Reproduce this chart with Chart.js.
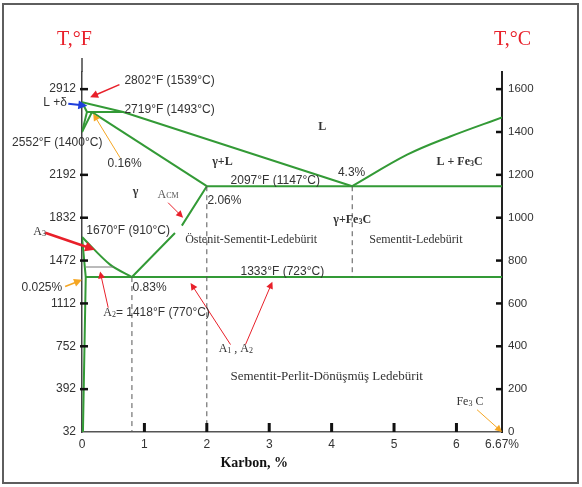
<!DOCTYPE html>
<html>
<head>
<meta charset="utf-8">
<script src="https://cdn.jsdelivr.net/npm/chart.js@4/dist/chart.umd.min.js"></script>
<style>
  html, body { margin: 0; padding: 0; background: #fff; }
  canvas { display: block; }
</style>
</head>
<body>
<canvas id="chart" width="582" height="487"></canvas>
<script>
// --- Phase boundaries: [carbon %, temperature °C] ---
const liquidusLeft  = [[0, 1539], [0.66, 1493], [4.33, 1147]];
const liquidusRight = [[4.33, 1147], [5.21, 1294], [5.9, 1379], [6.73, 1468]];
const deltaSolidus  = [[0, 1539], [0.08, 1493]];
const peritectic    = [[0.08, 1493], [0.66, 1493]];
const deltaGammaA   = [[0, 1400], [0.08, 1493]];
const deltaGammaB   = [[0, 1400], [0.16, 1493]];
const gammaSolidus  = [[0.16, 1493], [2.0, 1147]];
const eutectic      = [[2.0, 1147], [6.73, 1147]];
const a3Line        = [[0, 910], [0.45, 781], [0.8, 723]];
const acmLine       = [[0.8, 723], [1.49, 929], [1.55, null], [1.6, 963], [2.0, 1147]];
const ferriteLine   = [[0, 910], [0.06, 723], [0.015, 0]];
const eutectoid     = [[0.06, 723], [6.73, 723]];
const curieLine     = [[0.06, 770], [0.5, 770]];
const dash083       = [[0.8, 723], [0.8, 0]];
const dash206       = [[2.0, 1147], [2.0, 0]];
const dash43        = [[4.33, 1147], [4.33, 723]];

// --- Axes ---
const cementiteC  = 6.73;   // 6.67 % Fe3C sits at the right axis
const tempMaxC    = 1680;
const fTicks      = [32, 392, 752, 1112, 1472, 1832, 2192, 2912];
const cTicks      = [0, 200, 400, 600, 800, 1000, 1200, 1400, 1600];
const xTicks      = [0, 1, 2, 3, 4, 5, 6, cementiteC];
const xTickLabels = ['0', '1', '2', '3', '4', '5', '6', '6.67%'];

const GREEN = '#339a36';
const RED = '#e8202a';
const ORANGE = '#f5a623';
const BLUE = '#1f3fdc';
const TEXT = '#333';

const FONTS = {
    sans: '12px "Liberation Sans", Arial, sans-serif',
    serif: '12px "Liberation Serif", "Times New Roman", serif',
    serifL: '13px "Liberation Serif", "Times New Roman", serif',
    sub: '8px "Liberation Serif", "Times New Roman", serif',
    bold: 'bold 12px "Liberation Serif", "Times New Roman", serif',
    boldSub: 'bold 8px "Liberation Serif", "Times New Roman", serif',
    title: '20px "Liberation Serif", "Times New Roman", serif',
    axisTitle: 'bold 14px "Liberation Serif", "Times New Roman", serif'
};

// text annotations, anchored at [carbon %, °C]
const notes = [
    { at: [-0.12, 1831], align: 'center', color: RED, parts: [['T,°F', 'title']] },
    { at: [6.9, 1831], align: 'center', color: RED, parts: [['T,°C', 'title']] },
    { at: [0.68, 1640], parts: [['2802°F (1539°C)', 'sans']] },
    { at: [-0.24, 1537], align: 'right', parts: [['L +δ', 'sans']] },
    { at: [0.68, 1504], parts: [['2719°F (1493°C)', 'sans']] },
    { at: [-1.12, 1350], parts: [['2552°F (1400°C)', 'sans']] },
    { at: [0.41, 1254], parts: [['0.16%', 'sans']] },
    { at: [0.86, 1121], align: 'center', parts: [['γ', 'bold']] },
    { at: [2.25, 1261], align: 'center', parts: [['γ+L', 'bold']] },
    { at: [3.85, 1425], align: 'center', parts: [['L', 'bold']] },
    { at: [6.05, 1261], align: 'center', parts: [['L + Fe', 'bold'], ['3', 'boldSub', 2], ['C', 'bold']] },
    { at: [4.32, 1210], align: 'center', parts: [['4.3%', 'sans']] },
    { at: [2.38, 1173], parts: [['2097°F (1147°C)', 'sans']] },
    { at: [2.01, 1079], parts: [['2.06%', 'sans']] },
    { at: [1.21, 1107], color: '#555', parts: [['A', 'serif'], ['CM', 'sub', 1]] },
    { at: [4.33, 990], align: 'center', parts: [['γ+Fe', 'bold'], ['3', 'boldSub', 2], ['C', 'bold']] },
    { at: [2.71, 897], align: 'center', parts: [['Östenit-Sementit-Ledebürit', 'serif']] },
    { at: [5.35, 897], align: 'center', parts: [['Sementit-Ledebürit', 'serif']] },
    { at: [-0.78, 935], parts: [['A', 'serif'], ['3', 'sub', 2]] },
    { at: [0.07, 939], parts: [['1670°F (910°C)', 'sans']] },
    { at: [-0.97, 673], parts: [['0.025%', 'sans']] },
    { at: [0.81, 673], parts: [['0.83%', 'sans']] },
    { at: [0.34, 557], parts: [['A', 'serif'], ['2', 'sub', 2], ['= 1418°F (770°C)', 'sans']] },
    { at: [2.54, 748], parts: [['1333°F (723°C)', 'sans']] },
    { at: [2.19, 389], parts: [['A', 'serif'], ['1', 'sub', 2], [' , A', 'serif'], ['2', 'sub', 2]] },
    { at: [3.92, 258], align: 'center', parts: [['Sementit-Perlit-Dönüşmüş Ledebürit', 'serifL']] },
    { at: [6.0, 142], parts: [['Fe', 'serif'], ['3', 'sub', 2], [' C', 'serif']] },
    { at: [2.76, -148], align: 'center', color: '#111', parts: [['Karbon, %', 'axisTitle']] }
];

// pointer arrows, head at "to"
const pointers = [
    { from: [0.6, 1621], to: [0.13, 1562], color: RED, w: 1.5 },
    { from: [-0.22, 1532], to: [0.085, 1522], color: BLUE, w: 2 },
    { from: [0.61, 1280], to: [0.18, 1485], color: ORANGE, w: 1 },
    { from: [1.38, 1070], to: [1.62, 1000], color: RED, w: 1 },
    { from: [-0.59, 930], to: [0.21, 850], color: RED, w: 2.5 },
    { from: [-0.27, 679], to: [0, 710], color: ORANGE, w: 1.5 },
    { from: [0.42, 580], to: [0.29, 749], color: RED, w: 1 },
    { from: [2.38, 408], to: [1.74, 695], color: RED, w: 1 },
    { from: [2.62, 408], to: [3.05, 701], color: RED, w: 1 },
    { from: [6.33, 104], to: [cementiteC, 0], color: ORANGE, w: 1 }
];

function line(points, color, width, dash, tension) {
    return {
        data: points.map(p => ({ x: p[0], y: p[1] })),
        borderColor: color,
        borderWidth: width,
        borderDash: dash || [],
        tension: tension || 0,
        showLine: true,
        pointRadius: 0,
        fill: false,
        spanGaps: false,
        yAxisID: 'yC'
    };
}

function drawRich(ctx, x, y, parts, align, color) {
    let total = 0;
    parts.forEach(p => { ctx.font = FONTS[p[1]]; total += ctx.measureText(p[0]).width; });
    let cx = align === 'center' ? x - total / 2 : align === 'right' ? x - total : x;
    ctx.fillStyle = color || TEXT;
    ctx.textBaseline = 'middle';
    ctx.textAlign = 'left';
    parts.forEach(p => {
        ctx.font = FONTS[p[1]];
        ctx.fillText(p[0], cx, y + (p[2] || 0));
        cx += ctx.measureText(p[0]).width;
    });
}

function drawArrow(ctx, x1, y1, x2, y2, color, w) {
    const ang = Math.atan2(y2 - y1, x2 - x1);
    const len = 5 + w * 2, half = 2.5 + w;
    ctx.strokeStyle = color;
    ctx.fillStyle = color;
    ctx.lineWidth = w;
    ctx.beginPath();
    ctx.moveTo(x1, y1);
    ctx.lineTo(x2 - Math.cos(ang) * len * 0.8, y2 - Math.sin(ang) * len * 0.8);
    ctx.stroke();
    ctx.beginPath();
    ctx.moveTo(x2, y2);
    ctx.lineTo(x2 - Math.cos(ang) * len + Math.sin(ang) * half, y2 - Math.sin(ang) * len - Math.cos(ang) * half);
    ctx.lineTo(x2 - Math.cos(ang) * len - Math.sin(ang) * half, y2 - Math.sin(ang) * len + Math.cos(ang) * half);
    ctx.closePath();
    ctx.fill();
}

// --- Tick marks, labels, arrows and frame ---
const overlay = {
    id: 'overlay',
    afterDraw(chart) {
        const { ctx, chartArea } = chart;
        const x = chart.scales.x, yC = chart.scales.yC, yF = chart.scales.yF;
        const px = v => x.getPixelForValue(v);
        const py = v => yC.getPixelForValue(v);
        ctx.save();

        // left axis runs a bit higher than the right one
        ctx.strokeStyle = '#444';
        ctx.lineWidth = 1.5;
        ctx.beginPath();
        ctx.moveTo(chartArea.left, chartArea.top);
        ctx.lineTo(chartArea.left, chartArea.top - 14);
        ctx.stroke();

        ctx.fillStyle = '#111';
        yF.ticks.forEach(t => {
            if (t.value === fTicks[0]) return;
            ctx.fillRect(chartArea.left - 2, yF.getPixelForValue(t.value) - 1.25, 8, 2.5);
        });
        yC.ticks.forEach(t => {
            if (t.value === 0) return;
            ctx.fillRect(chartArea.right - 6, py(t.value) - 1.25, 6, 2.5);
        });
        x.ticks.forEach(t => {
            if (t.value === 0 || t.value === cementiteC) return;
            ctx.fillRect(px(t.value) - 1.5, chartArea.bottom - 9, 3, 9);
        });

        pointers.forEach(a => drawArrow(ctx, px(a.from[0]), py(a.from[1]), px(a.to[0]), py(a.to[1]), a.color, a.w));
        notes.forEach(n => drawRich(ctx, px(n.at[0]), py(n.at[1]), n.parts, n.align, n.color));

        ctx.strokeStyle = '#5e5e5e';
        ctx.lineWidth = 2;
        ctx.strokeRect(3, 4, 575, 479);
        ctx.restore();
    }
};

const axisFont = { family: '"Liberation Sans", Arial, sans-serif', size: 12 };

new Chart(document.getElementById('chart'), {
    type: 'scatter',
    data: {
        datasets: [
            line(dash083, '#555', 1, [5, 4]),
            line(dash206, '#555', 1, [5, 4]),
            line(dash43, '#555', 1, [5, 4]),
            line(curieLine, '#777', 1),
            line(liquidusLeft, GREEN, 2),
            line(liquidusRight, GREEN, 2, null, 0.35),
            line(deltaSolidus, GREEN, 2),
            line(peritectic, GREEN, 2),
            line(deltaGammaA, GREEN, 2),
            line(deltaGammaB, GREEN, 2),
            line(gammaSolidus, GREEN, 2),
            line(eutectic, GREEN, 2),
            line(a3Line, GREEN, 2, null, 0.3),
            line(acmLine, GREEN, 2),
            line(ferriteLine, GREEN, 2),
            line(eutectoid, GREEN, 2)
        ]
    },
    options: {
        responsive: false,
        animation: false,
        devicePixelRatio: 1,
        layout: { padding: { top: 72, left: 0, right: 0, bottom: 0 } },
        plugins: { legend: { display: false }, tooltip: { enabled: false } },
        scales: {
            x: {
                type: 'linear',
                min: 0,
                max: cementiteC,
                afterBuildTicks: s => { s.ticks = xTicks.map(v => ({ value: v })); },
                afterFit: s => { s.height = 55; },
                ticks: {
                    font: axisFont,
                    color: TEXT,
                    padding: 5,
                    callback: (v, i) => xTickLabels[i]
                },
                grid: { drawOnChartArea: false, drawTicks: false },
                border: { color: '#555', width: 1.5 }
            },
            yF: {
                type: 'linear',
                position: 'left',
                min: 32,
                max: tempMaxC * 1.8 + 32,
                afterBuildTicks: s => { s.ticks = fTicks.map(v => ({ value: v })); },
                afterFit: s => { s.width = 82; },
                ticks: { font: axisFont, color: TEXT, padding: 6, callback: v => String(v) },
                grid: { drawOnChartArea: false, drawTicks: false },
                border: { color: '#444', width: 1.5 }
            },
            yC: {
                type: 'linear',
                position: 'right',
                min: 0,
                max: tempMaxC,
                afterBuildTicks: s => { s.ticks = cTicks.map(v => ({ value: v })); },
                afterFit: s => { s.width = 80; },
                ticks: { font: { family: axisFont.family, size: 11.5 }, color: TEXT, padding: 6, callback: v => String(v) },
                grid: { drawOnChartArea: false, drawTicks: false },
                border: { color: '#222', width: 2 }
            }
        }
    },
    plugins: [overlay]
});
</script>
</body>
</html>
